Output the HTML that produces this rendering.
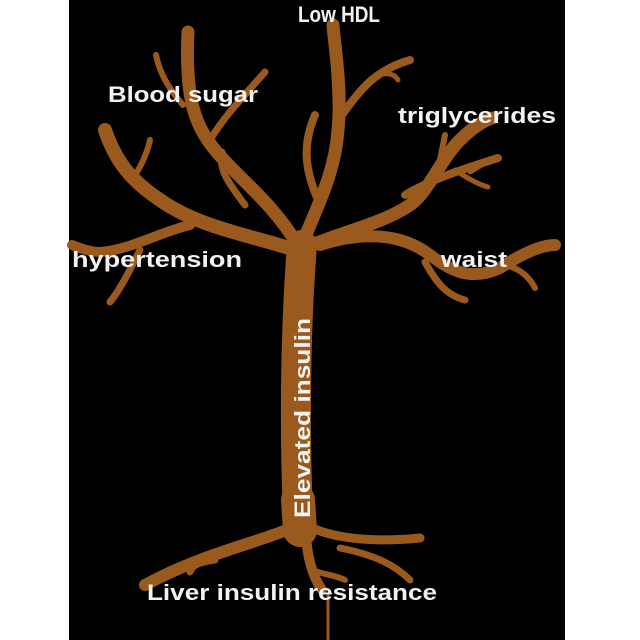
<!DOCTYPE html>
<html><head><style>html,body{margin:0;padding:0;background:#fff}svg{display:block}</style></head>
<body>
<svg width="640" height="640" viewBox="0 0 640 640" xmlns="http://www.w3.org/2000/svg">
<rect x="0" y="0" width="640" height="640" fill="#fff"/>
<rect x="69" y="0" width="496" height="640" fill="#000"/>
<g fill="none" stroke="#9a5a1e" stroke-linecap="round" stroke-linejoin="round">
<!-- trunk -->
<path d="M302 245 C296 320 294 420 298 515" stroke-width="30"/>
<path d="M298 500 L300 530" stroke-width="34"/>
<!-- roots -->
<path d="M292 528 C250 545 200 555 145 585" stroke-width="12"/>
<path d="M215 560 C200 562 192 565 190 572" stroke-width="7"/>
<path d="M305 530 C308 560 312 575 322 590" stroke-width="10"/>
<path d="M312 570 C325 575 335 575 345 580" stroke-width="6"/>
<path d="M312 528 C340 540 380 542 420 538" stroke-width="9"/>
<path d="M340 548 C375 555 395 565 410 580" stroke-width="7"/>
<path d="M328 595 L328 640" stroke-width="3"/>
<!-- center branch -->
<path d="M302 245 C315 210 335 175 338 130 C342 90 335 50 333 25" stroke-width="13"/>
<path d="M338 130 C335 70 334 40 333 22" stroke-width="8"/>
<path d="M342 115 C360 90 375 70 410 60" stroke-width="8"/>
<path d="M378 75 C390 72 395 75 398 80" stroke-width="5"/>
<path d="M318 200 C305 170 302 145 315 115" stroke-width="8"/>
<!-- left big -->
<path d="M298 245 C270 200 240 180 215 150 C195 125 185 100 188 32" stroke-width="13"/>
<path d="M195 115 C188 80 188 55 188 30" stroke-width="7"/>
<path d="M183 105 C170 90 160 75 156 55" stroke-width="6"/>
<path d="M210 140 C225 115 245 95 265 72" stroke-width="7"/>
<path d="M245 205 C230 185 218 170 222 152" stroke-width="7"/>
<!-- left lower -->
<path d="M295 250 C250 235 200 228 160 200 C130 180 115 160 105 130" stroke-width="14"/>
<path d="M135 175 C142 165 148 150 150 140" stroke-width="6"/>
<path d="M190 225 C160 232 130 250 100 252 C90 252 80 248 72 245" stroke-width="10"/>
<path d="M140 250 C130 270 120 290 110 302" stroke-width="7"/>
<!-- right -->
<path d="M305 248 C340 232 380 225 410 205 C430 190 440 160 460 140 C470 130 480 122 492 118" stroke-width="13"/>
<path d="M440 160 L445 135" stroke-width="6"/>
<path d="M405 195 C430 180 460 170 498 158" stroke-width="8"/>
<path d="M470 172 L490 160" stroke-width="5"/>
<path d="M455 170 C470 180 480 185 488 187" stroke-width="5"/>
<!-- waist -->
<path d="M320 245 C360 232 400 232 430 255 C450 270 470 282 500 268 C520 255 540 245 555 245" stroke-width="12"/>
<path d="M505 265 C520 268 530 278 535 288" stroke-width="6"/>
<path d="M425 262 C435 280 445 295 465 300" stroke-width="7"/>
</g>
<g fill="#f2f2f2" font-family="'Liberation Sans', sans-serif" font-size="22" font-weight="bold">
<text x="298" y="22" textLength="82" lengthAdjust="spacingAndGlyphs">Low HDL</text>
<text x="108" y="102" textLength="150" lengthAdjust="spacingAndGlyphs">Blood sugar</text>
<text x="398" y="123" textLength="158" lengthAdjust="spacingAndGlyphs">triglycerides</text>
<text x="72" y="267" textLength="170" lengthAdjust="spacingAndGlyphs">hypertension</text>
<text x="441" y="267" textLength="66" lengthAdjust="spacingAndGlyphs">waist</text>
<text x="147" y="600" textLength="290" lengthAdjust="spacingAndGlyphs">Liver insulin resistance</text>
<text transform="translate(310,518) rotate(-90)" x="0" y="0" textLength="200" lengthAdjust="spacingAndGlyphs">Elevated insulin</text>
</g>
</svg>
</body></html>
